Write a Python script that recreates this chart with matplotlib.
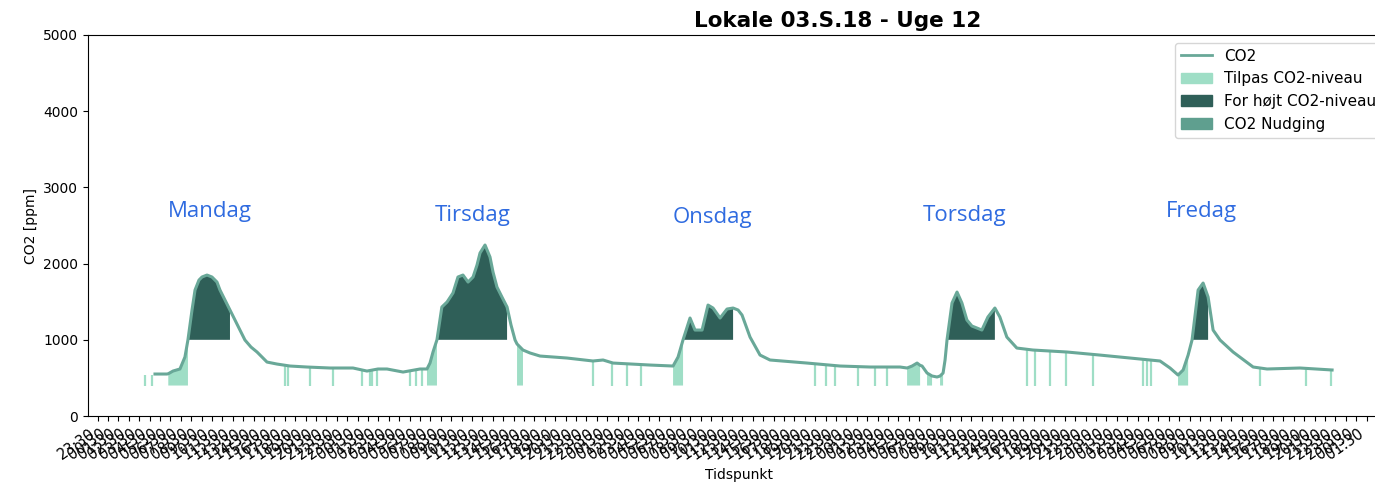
import numpy as np
import matplotlib.pyplot as plt
from matplotlib.patches import Patch
from matplotlib.lines import Line2D

# timer siden mandag 00:00 og CO2 [ppm]
hours = [5.02, 6.17, 6.3, 6.75, 7.42, 7.90, 8.19, 8.58, 8.87, 9.25, 9.54, 10.02, 10.50, 10.98,
         11.27, 11.75, 12.23, 12.71, 13.19, 13.67, 14.25, 14.83, 15.79, 16.75, 18.0, 19.63,
         21.85, 24.06, 25.40, 26.46, 27.33, 28.87, 30.50,
         31.17, 31.46, 31.75, 32.13, 32.6, 33.1, 33.67, 34.15, 34.63, 35.12, 35.6, 35.98,
         36.27, 36.75, 37.23, 37.52, 37.9, 38.38, 38.87, 39.25, 39.64, 39.83, 40.4, 41.08,
         42.04, 44.63, 47.13, 48.1, 49.06, 52.6,
         54.83, 55.31, 55.79, 56.46, 56.94, 57.62, 58.19, 58.67, 59.35, 60.02, 60.6, 61.08,
         61.46, 62.23, 63.19, 64.15, 67.71, 70.88, 73.77, 76.65,
         77.33, 77.81, 78.29, 78.58, 78.77, 79.25, 79.73, 80.21, 80.5, 80.79, 80.98, 81.17,
         81.65, 82.13, 82.6, 83.08, 83.56, 84.04, 84.52, 85.1, 85.77, 86.25, 86.92, 87.88,
         89.42, 92.69, 95.85, 99.73, 101.65, 102.61,
         103.38, 103.87, 104.35, 104.73, 105.31, 105.79, 106.27, 106.75, 107.42, 108.67,
         110.6, 111.94, 115.1, 118.19]
co2 = [551, 551, 555, 590, 617, 774, 1000, 1391, 1653, 1784, 1824, 1850, 1824, 1758,
       1653, 1522, 1391, 1260, 1128, 997, 905, 840, 708, 682, 656, 643,
       630, 630, 590, 617, 617, 577, 617,
       617, 695, 840, 1000, 1430, 1496, 1614, 1824, 1850, 1758, 1824, 1981,
       2139, 2244, 2086, 1889, 1692, 1561, 1430, 1194, 997, 945, 866, 827,
       787, 761, 722, 735, 695, 669,
       656, 774, 1000, 1286, 1128, 1128, 1456, 1417, 1286, 1404, 1417, 1391,
       1325, 1036, 800, 735, 695, 656, 643, 643,
       630, 656, 695, 665, 656, 564, 525, 512, 525, 564, 735, 1000,
       1483, 1627, 1483, 1260, 1181, 1155, 1128, 1299, 1417, 1299, 1036, 892,
       866, 840, 800, 748, 722, 630,
       538, 604, 800, 1000, 1653, 1745, 1561, 1128, 997, 840,
       643, 617, 630, 604]

# perioder med for højt CO2-niveau og tilpas niveau
hoej_perioder = [(8.19, 12.23), (32.13, 38.87), (55.79, 60.6), (81.17, 85.77), (104.73, 106.27)]
tilpas_perioder = [(6.3, 6.75), (7.42, 8.19), (31.17, 32.13), (39.83, 40.4), (54.83, 55.79),
                   (77.33, 78.58), (79.25, 79.73), (80.5, 80.79), (103.38, 104.35)]
tilpas_enkelt = [4.1, 4.7, 17.52, 17.81, 19.9, 22.13, 24.9, 25.67, 25.87, 26.35, 29.54, 30.11,
                 30.69, 47.13, 48.96, 50.4, 51.7, 68.48, 69.54, 70.4, 72.6, 74.23, 75.4,
                 88.87, 89.63, 91.08, 92.6, 95.2, 100.0, 100.4, 100.79, 111.27, 115.69, 118.1]
tilpas_top = [540, 540, 660, 656, 643, 630, 600, 600, 605, 615, 600, 615,
              615, 722, 695, 680, 670, 690, 670, 660, 650, 643, 643,
              866, 866, 850, 840, 805, 748, 745, 740, 630, 630, 604]

dage = ['Mandag', 'Tirsdag', 'Onsdag', 'Torsdag', 'Fredag']
dag_x = [10.3, 35.6, 58.6, 82.9, 105.6]
dag_y = [2680, 2625, 2610, 2625, 2680]

line_col = '#69a898'
light_col = '#9fdec6'
dark_col = '#2f5f58'
nudge_col = '#5f9f8f'

h = np.array(hours)
c = np.array(co2)


def periode_maske(perioder):
    m = np.zeros(len(h), dtype=bool)
    for a, b in perioder:
        m |= (h >= a - 1e-6) & (h <= b + 1e-6)
    return m


fig = plt.figure(figsize=(13.75, 4.86), dpi=100)
ax = fig.add_axes([0.064, 0.144, 0.947, 0.784])

ax.fill_between(h, 400, c, where=periode_maske(tilpas_perioder), color=light_col, lw=0)
ax.vlines(tilpas_enkelt, 400, tilpas_top, color=light_col, lw=1.6)
ax.fill_between(h, 1000, c, where=periode_maske(hoej_perioder), color=dark_col, lw=0)
ax.plot(h, c, color=line_col, lw=2.2)

for navn, x, y in zip(dage, dag_x, dag_y):
    ax.text(x, y, navn, color='#2f6be0', fontsize=16, family='Open Sans', ha='center', va='center')

ax.set_xlim(-1.42, 123.77)
ax.set_ylim(0, 5000)
ticks = np.arange(-0.5, 122, 1.0)
ax.set_xticks(ticks)
ax.set_xticklabels(['%02d:30' % (int(np.floor(t)) % 24) for t in ticks],
                   rotation=35, ha='right', fontsize=10.5)
ax.set_yticks([0, 1000, 2000, 3000, 4000, 5000])
ax.set_xlabel('Tidspunkt')
ax.set_ylabel('CO2 [ppm]')
ax.set_title('Lokale 03.S.18 - Uge 12', fontsize=15.5, fontweight='bold', x=0.576)

handles = [Line2D([], [], color=line_col, lw=2),
           Patch(color=light_col), Patch(color=dark_col), Patch(color=nudge_col)]
ax.legend(handles, ['CO2', 'Tilpas CO2-niveau', 'For højt CO2-niveau', 'CO2 Nudging'],
          loc='upper right', fontsize=11)

fig.savefig('out.png')
